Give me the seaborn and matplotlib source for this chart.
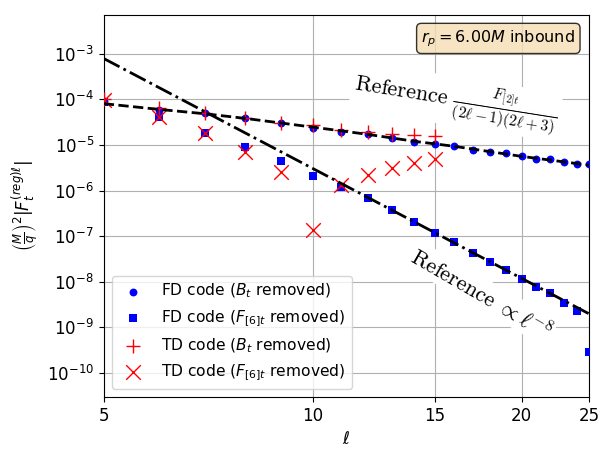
import numpy as np
import pandas as pd
import matplotlib
matplotlib.use("Agg")
import matplotlib.pyplot as plt
import matplotlib.ticker as mticker
import seaborn as sns

### DATA ###
ell_fd = [5, 6, 7, 8, 9, 10, 11, 12, 13, 14, 15, 16, 17, 18, 19, 20, 21, 22, 23, 24, 25]
fd_bt = [9.2e-5, 5.9e-5, 4.9e-5, 3.8e-5, 3.0e-5, 2.4e-5, 1.93e-5, 1.69e-5, 1.38e-5, 1.17e-5, 1.07e-5,
         9.3e-6, 7.9e-6, 7.0e-6, 6.5e-6, 5.6e-6, 5.0e-6, 4.8e-6, 4.3e-6, 3.9e-6, 3.8e-6]
fd_f6 = [8.5e-5, 4.1e-5, 1.78e-5, 8.8e-6, 4.4e-6, 2.1e-6, 1.18e-6, 6.8e-7, 3.7e-7, 2.04e-7, 1.17e-7,
         7.5e-8, 4.2e-8, 2.75e-8, 1.8e-8, 1.13e-8, 7.8e-9, 5.7e-9, 3.5e-9, 2.3e-9, 2.95e-10]

ell_td = [5, 6, 7, 8, 9, 10, 11, 12, 13, 14, 15]
td_bt = [1.0e-4, 6.3e-5, 4.9e-5, 3.9e-5, 3.0e-5, 2.7e-5, 2.17e-5, 1.93e-5, 1.69e-5, 1.63e-5, 1.55e-5]
td_f6 = [9.5e-5, 4.0e-5, 1.78e-5, 7.1e-6, 2.57e-6, 1.35e-7, 1.31e-6, 2.2e-6, 3.04e-6, 4.05e-6, 4.8e-6]

# reference curves
ell_ref2 = [5, 6, 7, 8, 10, 12, 14, 16, 20, 25]
ref2 = [8.0e-5, 6.0e-5, 4.8e-5, 3.8e-5, 2.45e-5, 1.7e-5, 1.2e-5, 9.3e-6, 5.6e-6, 3.6e-6]
ell_ref8 = [5, 25]
ref8 = [7.8e-4, 2.0e-9]

### PLOT ###
plt.rcParams['font.size'] = 12
fig, ax = plt.subplots(figsize=(6.14, 4.61), dpi=100)
fig.subplots_adjust(left=0.169, right=0.959, top=0.968, bottom=0.139)

sns.scatterplot(x=ell_fd, y=fd_bt, marker='o', color='blue', s=32, linewidth=0,
                label=r'FD code ($B_t$ removed)', ax=ax, zorder=3)
sns.scatterplot(x=ell_fd, y=fd_f6, marker='s', color='blue', s=38, linewidth=0,
                label=r'FD code ($F_{[6]t}$ removed)', ax=ax, zorder=3)
sns.scatterplot(x=ell_td, y=td_bt, marker='+', color='red', s=110, linewidth=1,
                label=r'TD code ($B_t$ removed)', ax=ax, zorder=4)
sns.scatterplot(x=ell_td, y=td_f6, marker='x', color='red', s=110, linewidth=1,
                label=r'TD code ($F_{[6]t}$ removed)', ax=ax, zorder=4)

sns.lineplot(x=ell_ref2, y=ref2, color='black', lw=2, linestyle='--', ax=ax, zorder=5)
sns.lineplot(x=ell_ref8, y=ref8, color='black', lw=2, linestyle='-.', ax=ax, zorder=5)

ax.set_xscale('log')
ax.set_yscale('log')
ax.set_xlim(5, 25)
ax.set_ylim(3.0e-11, 7.1e-3)
ax.set_xticks([5, 10, 15, 20, 25])
ax.xaxis.set_major_formatter(mticker.ScalarFormatter())
ax.xaxis.set_minor_locator(mticker.NullLocator())
ax.set_yticks([10.0**-k for k in range(3, 11)])
ax.yaxis.set_minor_locator(mticker.NullLocator())
ax.grid(True, color='#b0b0b0', lw=0.8)
ax.set_axisbelow(True)

ax.set_xlabel(r'$\ell$')
ax.set_ylabel(r'$\left(\frac{M}{q}\right)^2|F_t^{(reg)\ell}|$')

# annotations
ax.text(16.07, 9.0e-5, r'$\mathrm{Reference}\ \frac{F_{[2]t}}{(2\ell-1)(2\ell+3)}$',
        fontsize=16, math_fontfamily='cm', rotation=-9, ha='center', va='center',
        rotation_mode='anchor', bbox=dict(facecolor='white', edgecolor='none', pad=2), zorder=6)
ax.text(17.5, 5.65e-9, r'$\mathrm{Reference}\ \propto \ell^{-8}$',
        fontsize=16, math_fontfamily='cm', rotation=-30, ha='center', va='center',
        rotation_mode='anchor', bbox=dict(facecolor='white', edgecolor='none', pad=2), zorder=6)
ax.text(0.972, 0.965, r'$r_p = 6.00M$ inbound', transform=ax.transAxes, ha='right', va='top',
        fontsize=11.5, bbox=dict(boxstyle='round', facecolor='wheat', edgecolor='black', alpha=0.8), zorder=7)

ax.legend(loc='lower left', fontsize=11.2)
plt.savefig('out.png', dpi=100)
